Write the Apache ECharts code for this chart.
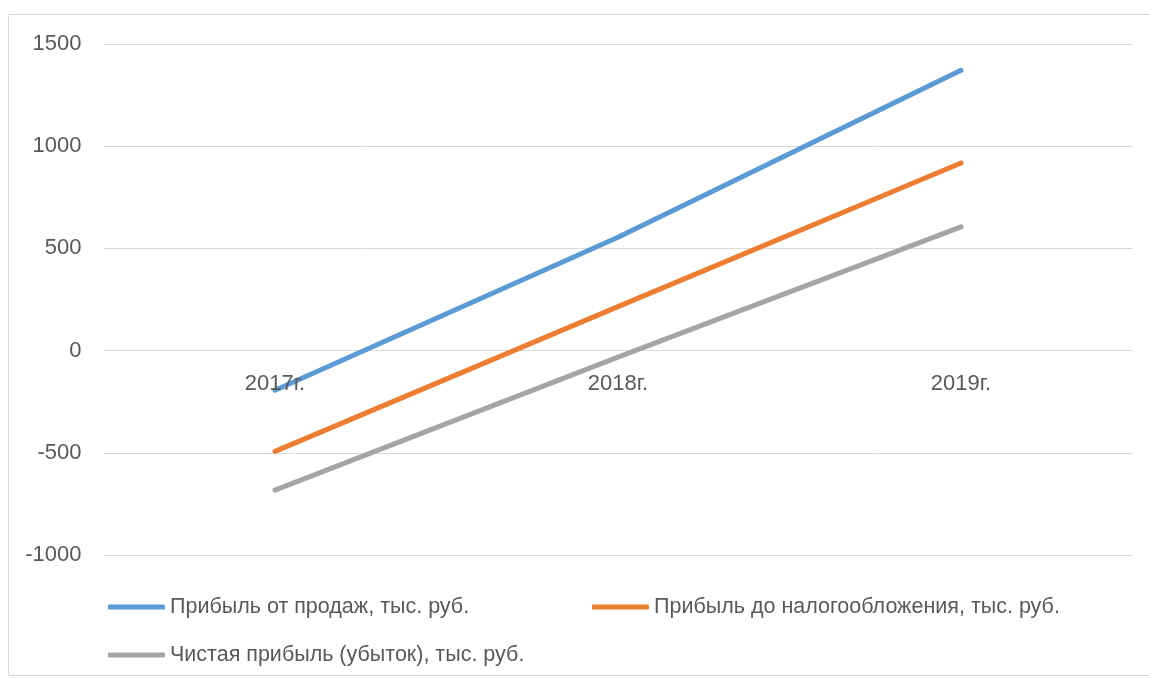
<!DOCTYPE html>
<html>
<head>
<meta charset="utf-8">
<script src="https://cdn.jsdelivr.net/npm/echarts@6/dist/echarts.min.js"></script>
<style>
  html, body { margin: 0; padding: 0; background: #fff; }
  #chart { width: 1149px; height: 679px; }
</style>
</head>
<body>
<div id="chart"></div>
<script>
// Financial results by year, thousand roubles
const years = ['2017г.', '2018г.', '2019г.'];
const salesProfit = [-194, 555, 1371];
const preTaxProfit = [-493, 215, 918];
const netProfit = [-683, -32, 605];
const yTicks = [-1000, -500, 0, 500, 1000, 1500];

const seriesNames = [
  'Прибыль от продаж, тыс. руб.',
  'Прибыль до налогообложения, тыс. руб.',
  'Чистая прибыль (убыток), тыс. руб.'
];
const colors = ['#5B9BD5', '#ED7D31', '#A5A5A5'];
const font = 'Liberation Sans';
const textColor = '#595959';

// plot box: the value axis spans 2500 units over 511 px
const gridTop = 44, gridBottom = 124, plotHeight = 511;
// the category axis sits at the zero line, raised from the plot bottom
const zeroOffset = -plotHeight * (0 - yTicks[0]) / (yTicks[yTicks.length - 1] - yTicks[0]);

const chart = echarts.init(document.getElementById('chart'));

function lineSeries(name, data, color) {
  return {
    name: name,
    type: 'line',
    data: data,
    symbol: 'none',
    smooth: false,
    lineStyle: { color: color, width: 5, cap: 'round', join: 'round' },
    itemStyle: { color: color }
  };
}

function legendFor(name, left, top) {
  return {
    data: [name],
    left: left,
    top: top,
    icon: 'roundRect',
    itemWidth: 57,
    itemHeight: 5,
    itemGap: 0,
    padding: 0,
    textStyle: { color: textColor, fontSize: 21.5, fontFamily: font }
  };
}

chart.setOption({
  animation: false,
  backgroundColor: '#fff',
  color: colors,
  graphic: [{
    type: 'rect',
    shape: { x: 8.5, y: 14.5, width: 1200, height: 661 },
    style: { fill: 'none', stroke: '#d9d9d9', lineWidth: 1 },
    silent: true
  }],
  grid: { left: 103.5, right: 16.5, top: gridTop, bottom: gridBottom, containLabel: false },
  legend: [
    legendFor(seriesNames[0], 108, 596),
    legendFor(seriesNames[1], 592, 596),
    legendFor(seriesNames[2], 108, 644)
  ],
  xAxis: {
    type: 'category',
    data: years,
    boundaryGap: true,
    offset: zeroOffset,
    z: 5,
    // the zero gridline already marks the axis position
    axisLine: { show: false, onZero: false },
    axisTick: { show: false },
    axisLabel: { color: textColor, fontSize: 22, fontFamily: font, margin: 22 },
    splitLine: { show: false }
  },
  yAxis: {
    type: 'value',
    min: yTicks[0],
    max: yTicks[yTicks.length - 1],
    interval: 500,
    axisLine: { show: false },
    axisTick: { show: false },
    axisLabel: {
      color: textColor, fontSize: 22, fontFamily: font, margin: 22,
      formatter: function (v) { return String(v); }
    },
    splitLine: { lineStyle: { color: '#d9d9d9', width: 1 } }
  },
  series: [
    lineSeries(seriesNames[0], salesProfit, colors[0]),
    lineSeries(seriesNames[1], preTaxProfit, colors[1]),
    lineSeries(seriesNames[2], netProfit, colors[2])
  ]
});
</script>
</body>
</html>
